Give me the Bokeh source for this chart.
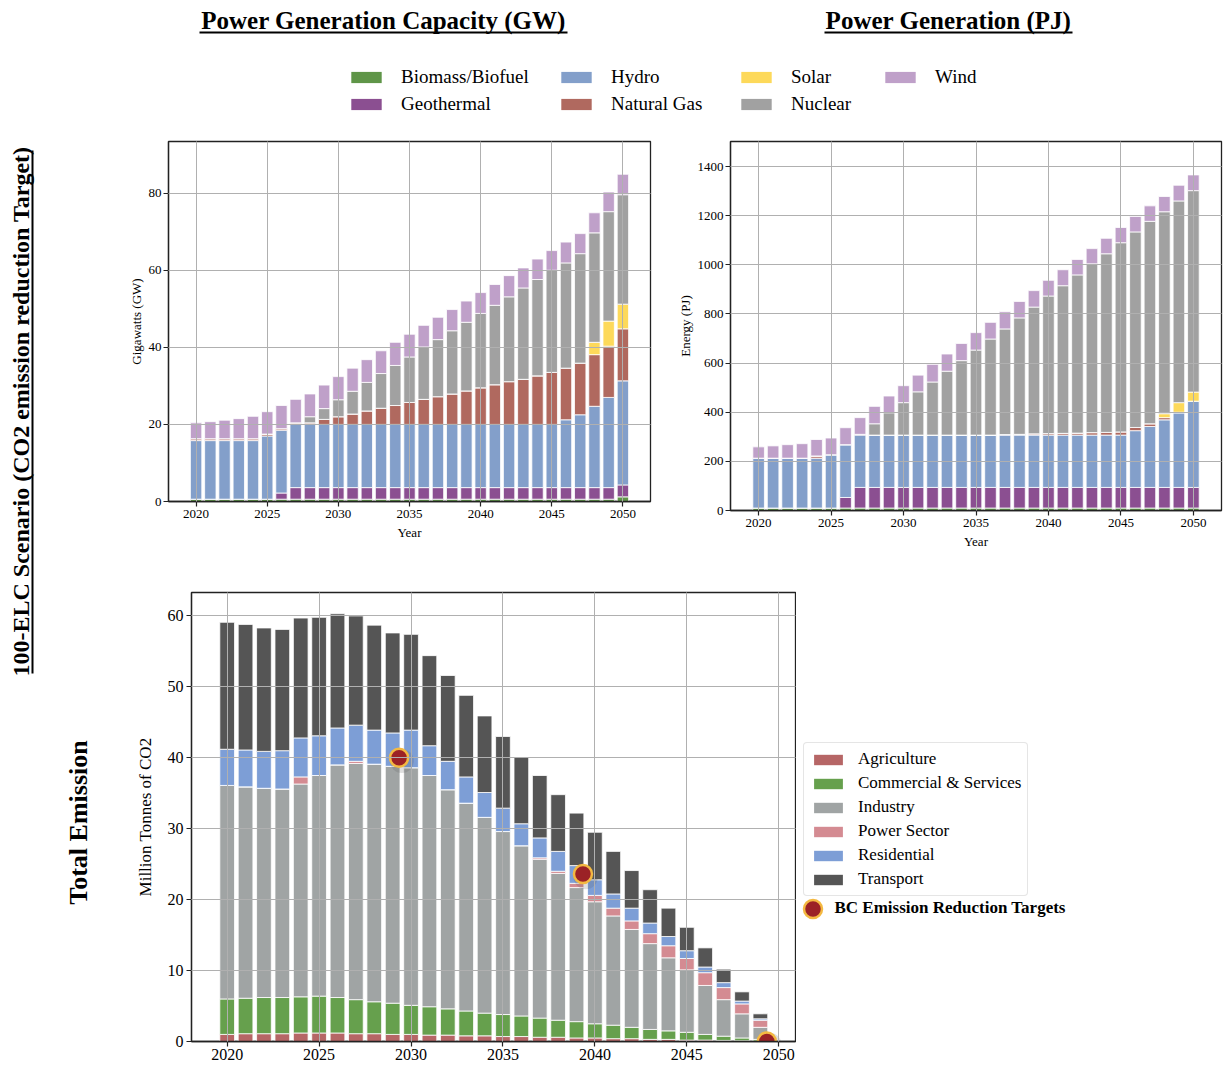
from bokeh.plotting import figure
from bokeh.models import ColumnDataSource, Range1d, FixedTicker, Legend, LegendItem, Label
from bokeh.layouts import row, column
from bokeh.embed import file_html
from bokeh.resources import INLINE
from bokeh.transform import dodge
import math

SERIF = "Liberation Serif"

# ---------------- data ----------------
years = [2020, 2021, 2022, 2023, 2024, 2025, 2026, 2027, 2028, 2029, 2030,
         2031, 2032, 2033, 2034, 2035, 2036, 2037, 2038, 2039, 2040,
         2041, 2042, 2043, 2044, 2045, 2046, 2047, 2048, 2049, 2050]
x_ticks = [2020, 2025, 2030, 2035, 2040, 2045, 2050]

# Capacity (GW)
biomass_gw = [0.6, 0.6, 0.6, 0.6, 0.6, 0.6, 0.6, 0.6, 0.6, 0.6, 0.6, 0.6, 0.6, 0.6, 0.6, 0.6,
              0.6, 0.6, 0.6, 0.6, 0.6, 0.6, 0.6, 0.6, 0.6, 0.6, 0.6, 0.6, 0.6, 0.6, 1.2]
geothermal_gw = [0, 0, 0, 0, 0, 0, 1.6, 3.0, 3.0, 3.0, 3.0, 3.0, 3.0, 3.0, 3.0, 3.0,
                 3.0, 3.0, 3.0, 3.0, 3.0, 3.0, 3.0, 3.0, 3.0, 3.0, 3.0, 3.0, 3.0, 3.0, 3.1]
hydro_gw = [15.2, 15.2, 15.2, 15.2, 15.2, 16.4, 16.3, 16.4, 16.4, 16.4, 16.4, 16.4, 16.4, 16.4,
            16.4, 16.4, 16.4, 16.4, 16.4, 16.4, 16.4, 16.4, 16.4, 16.4, 16.4, 16.4, 17.6, 18.9,
            21.1, 23.4, 27.0]
gas_gw = [0.5, 0.5, 0.5, 0.5, 0.5, 0.5, 0.4, 0.4, 0.4, 1.3, 2.0, 2.7, 3.5, 4.2, 4.9, 5.7, 6.5,
          7.2, 7.9, 8.7, 9.5, 10.3, 11.1, 11.7, 12.6, 13.5, 13.4, 13.4, 13.4, 13.3, 13.5]
solar_gw = [0, 0, 0, 0, 0, 0, 0, 0, 0, 0, 0, 0, 0, 0, 0, 0, 0, 0, 0, 0, 0, 0, 0, 0, 0, 0, 0, 0,
            3.2, 6.5, 6.4]
nuclear_gw = [0, 0, 0, 0, 0, 0, 0, 0, 1.6, 2.8, 4.4, 5.9, 7.4, 9.0, 10.4, 11.8, 13.6, 14.8, 16.4,
              17.8, 19.3, 20.6, 22.0, 23.7, 25.0, 26.5, 27.3, 28.4, 28.4, 28.4, 28.4]
wind_gw = [4.1, 4.4, 4.8, 5.2, 5.8, 5.8, 6.0, 6.1, 5.9, 6.1, 6.0, 6.0, 5.9, 5.9, 6.0, 5.9, 5.6,
           5.8, 5.5, 5.5, 5.4, 5.4, 5.5, 5.2, 5.3, 5.1, 5.4, 5.2, 5.2, 5.1, 5.3]
gw_ticks = [0, 20, 40, 60, 80]

# Generation (PJ)
biomass_pj = [10, 10, 10, 10, 10, 10, 10, 10, 10, 10, 10, 10, 10, 10, 10, 10, 10, 10, 10, 10,
              10, 10, 10, 10, 10, 10, 10, 10, 10, 10, 10]
geothermal_pj = [0, 0, 0, 0, 0, 0, 43, 84, 84, 84, 84, 84, 84, 84, 84, 84, 84, 84, 84, 84, 84,
                 84, 84, 84, 84, 84, 84, 84, 84, 84, 84]
hydro_pj = [203, 203, 203, 203, 203, 217, 215, 213, 213, 213, 213, 213, 213, 213, 213, 213, 213,
            213, 213, 213, 213, 213, 213, 213, 213, 213, 231, 248, 275, 303, 351]
gas_pj = [0, 0, 0, 0, 9, 0, 0, 3, 0, 0, 0, 0, 0, 0, 0, 0, 0, 2, 3, 5, 6, 7, 8, 10, 11, 13, 13,
          11, 9, 3, 0]
solar_pj = [0, 0, 0, 0, 0, 0, 0, 0, 0, 0, 0, 0, 0, 0, 0, 0, 0, 0, 0, 0, 0, 0, 0, 0, 0, 0, 0, 0,
            16, 39, 37]
nuclear_pj = [0, 0, 0, 0, 0, 0, 0, 0, 46, 91, 132, 176, 216, 260, 303, 346, 391, 430, 474, 516,
              560, 601, 644, 687, 727, 770, 796, 824, 822, 821, 820]
wind_pj = [46, 50, 55, 59, 67, 68, 69, 68, 71, 68, 69, 68, 72, 70, 70, 71, 68, 70, 67, 67, 64,
           65, 63, 62, 63, 62, 63, 63, 62, 64, 64]
pj_ticks = [0, 200, 400, 600, 800, 1000, 1200, 1400]

tech_names = ["Biomass/Biofuel", "Geothermal", "Hydro", "Natural Gas", "Solar", "Nuclear", "Wind"]
tech_colors = ["#5f9548", "#8b4f91", "#839fca", "#b0695f", "#fdd95a", "#a1a1a1", "#bfa0c9"]

# Emissions (Mt CO2)
agriculture = [1.0, 1.1, 1.1, 1.1, 1.2, 1.2, 1.2, 1.1, 1.1, 1.0, 1.0, 0.9, 0.9, 0.8, 0.8, 0.7,
               0.7, 0.6, 0.6, 0.5, 0.5, 0.4, 0.4, 0.3, 0.3, 0.2, 0.2, 0.15, 0.1, 0.05, 0]
commercial = [5.0, 5.0, 5.1, 5.1, 5.1, 5.2, 5.0, 4.8, 4.5, 4.4, 4.1, 4.0, 3.7, 3.5, 3.2, 3.1,
              2.9, 2.7, 2.4, 2.3, 2.0, 1.9, 1.6, 1.4, 1.2, 1.1, 0.8, 0.6, 0.4, 0.25, 0]
industry = [30.1, 29.8, 29.5, 29.4, 30.0, 31.1, 32.8, 33.3, 33.5, 33.4, 33.5, 32.6, 30.9, 29.3,
            27.6, 25.8, 24.0, 22.4, 20.7, 18.9, 17.2, 15.4, 13.8, 12.1, 10.3, 8.8, 6.9, 5.15,
            3.4, 1.7, 0]
power = [0, 0, 0, 0, 1.0, 0, 0, 0.3, 0, 0, 0, 0, 0, 0, 0, 0, 0, 0.2, 0.3, 0.6, 0.9, 1.1, 1.2,
         1.4, 1.7, 1.6, 1.8, 1.7, 1.4, 1.0, 0]
residential = [5.1, 5.2, 5.2, 5.4, 5.5, 5.6, 5.2, 5.1, 4.8, 4.7, 5.3, 4.2, 4.0, 3.7, 3.5, 3.3,
               3.1, 2.8, 2.8, 2.5, 2.2, 2.0, 1.8, 1.5, 1.3, 1.1, 0.8, 0.7, 0.4, 0.2, 0]
transport = [17.9, 17.7, 17.4, 17.1, 16.9, 16.7, 16.1, 15.4, 14.8, 14.1, 13.5, 12.7, 12.1, 11.5,
             10.8, 10.1, 9.4, 8.8, 8.0, 7.4, 6.7, 6.0, 5.3, 4.7, 4.0, 3.3, 2.7, 1.9, 1.3, 0.7, 0]
em_ticks = [0, 10, 20, 30, 40, 50, 60]

sector_names = ["Agriculture", "Commercial & Services", "Industry", "Power Sector",
                "Residential", "Transport"]
sector_colors = ["#b66666", "#66a04d", "#a0a4a4", "#d48b92", "#7d9ed6", "#555555"]

target_years = [2030, 2040, 2050]
target_values = [40.0, 23.6, 0.0]
target_label = "BC Emission Reduction Targets"

# ---------------- helpers ----------------
def style(p, tick_px, label_px):
    p.background_fill_color = "white"
    p.border_fill_color = "white"
    p.outline_line_color = "#222222"
    p.outline_line_width = 1.3
    for ax in (p.xaxis[0], p.yaxis[0]):
        ax.axis_line_color = "#222222"
        ax.axis_line_width = 1.3
        ax.major_tick_line_color = "#222222"
        ax.major_tick_line_width = 1.2
        ax.major_tick_out = 5
        ax.major_tick_in = 0
        ax.minor_tick_line_color = None
        ax.major_label_text_font = SERIF
        ax.major_label_text_font_size = tick_px
        ax.major_label_text_color = "black"
        ax.major_label_standoff = 3
        ax.axis_label_text_font = SERIF
        ax.axis_label_text_font_size = label_px
        ax.axis_label_text_font_style = "normal"
        ax.axis_label_text_color = "black"
    p.xaxis.ticker = FixedTicker(ticks=x_ticks)
    p.grid.grid_line_color = "#b0b0b0"
    p.grid.grid_line_width = 1
    p.grid.level = "guide"


def blank(w, h):
    f = figure(width=w, height=h, x_range=Range1d(0, w), y_range=Range1d(0, h),
               x_axis_type=None, y_axis_type=None, min_border=0,
               output_backend="svg", toolbar_location=None)
    f.outline_line_color = None
    f.grid.visible = False
    return f


# ---------------- header (titles + tech legend) ----------------
HW, HH = 1224, 135
header = blank(HW, HH)
header.add_layout(Label(x=383, y=HH - 20, text="Power Generation Capacity (GW)", text_align="center",
                        text_baseline="middle", text_font=SERIF, text_font_size="25px",
                        text_font_style="bold", text_color="black"))
header.add_layout(Label(x=948, y=HH - 20, text="Power Generation (PJ)", text_align="center",
                        text_baseline="middle", text_font=SERIF, text_font_size="25px",
                        text_font_style="bold", text_color="black"))
header.segment(x0=[199, 824], y0=[HH - 32, HH - 32], x1=[567, 1072], y1=[HH - 32, HH - 32],
               line_color="black", line_width=2)

# legend-only renderers (their single bar lies outside the visible range)
dummy = [header.vbar(x=[-500], top=[0], width=1, fill_color=c, line_color=None)
         for c in tech_colors]

legend_cols = [[0, 1], [2, 3], [4, 5], [6]]
legend_x = [347, 557, 737, 881]
for idxs, lx in zip(legend_cols, legend_x):
    n = len(idxs)
    h = n * 22 + (n - 1) * 5
    lg = Legend(items=[LegendItem(label=tech_names[i], renderers=[dummy[i]]) for i in idxs],
                location=(lx, HH - 66 - h), orientation="vertical", glyph_width=38, glyph_height=14,
                label_standoff=16, label_height=22, spacing=5, padding=0, margin=0,
                border_line_color=None, background_fill_alpha=0,
                label_text_font=SERIF, label_text_font_size="19px", label_text_color="black")
    header.add_layout(lg)

# ---------------- left strip (scenario labels) ----------------
LW, LH = 123, 931
left = blank(LW, LH)
TOP = HH + LH  # picture y of the strip bottom
left.add_layout(Label(x=20, y=TOP - 411, text="100-ELC Scenario (CO2 emission reduction Target)",
                      angle=math.pi / 2, text_align="center", text_baseline="middle",
                      text_font=SERIF, text_font_size="24px", text_font_style="bold",
                      text_color="black"))
left.segment(x0=[32], y0=[TOP - 673], x1=[32], y1=[TOP - 150], line_color="black", line_width=2)
left.add_layout(Label(x=78, y=TOP - 822, text="Total Emission", angle=math.pi / 2, text_align="center",
                      text_baseline="middle", text_font=SERIF, text_font_size="26px",
                      text_font_style="bold", text_color="black"))

# ---------------- capacity chart ----------------
src_gw = ColumnDataSource(dict(year=years, b=biomass_gw, g=geothermal_gw, h=hydro_gw,
                               n=gas_gw, s=solar_gw, u=nuclear_gw, w=wind_gw))
tl = figure(frame_width=482, frame_height=360, min_border_left=45, min_border_right=20,
            min_border_top=6, min_border_bottom=45,
            x_range=Range1d(2018.06, 2051.94), y_range=Range1d(0, 93.4),
            output_backend="svg", toolbar_location=None)
style(tl, "13px", "13px")
tl.yaxis.ticker = FixedTicker(ticks=gw_ticks)
tl.xaxis.axis_label = "Year"
tl.yaxis.axis_label = "Gigawatts (GW)"
tl.yaxis.axis_label_standoff = 2
tl.yaxis.major_label_standoff = 2
tl.xaxis.axis_label_standoff = 4
tl.vbar_stack(["b", "g", "h", "n", "s", "u", "w"], x="year", width=0.8, source=src_gw,
              fill_color=tech_colors, line_color="white", line_width=0.8)

# ---------------- generation chart ----------------
src_pj = ColumnDataSource(dict(year=years, b=biomass_pj, g=geothermal_pj, h=hydro_pj,
                               n=gas_pj, s=solar_pj, u=nuclear_pj, w=wind_pj))
tr = figure(frame_width=491, frame_height=369, min_border_left=60, min_border_right=2,
            min_border_top=4, min_border_bottom=45,
            x_range=Range1d(2018.06, 2051.94), y_range=Range1d(0, 1502),
            output_backend="svg", toolbar_location=None)
style(tr, "13px", "13px")
tr.yaxis.ticker = FixedTicker(ticks=pj_ticks)
tr.xaxis.axis_label = "Year"
tr.yaxis.axis_label = "Energy (PJ)"
tr.yaxis.axis_label_standoff = 2
tr.yaxis.major_label_standoff = 2
tr.xaxis.axis_label_standoff = 4
tr.vbar_stack(["b", "g", "h", "n", "s", "u", "w"], x="year", width=0.8, source=src_pj,
              fill_color=tech_colors, line_color="white", line_width=0.8)

# ---------------- emission chart ----------------
src_em = ColumnDataSource(dict(year=years, a=agriculture, c=commercial, i=industry,
                               p=power, r=residential, t=transport))
BH = 39 + 449 + 25
bt = figure(frame_width=604, frame_height=449, min_border_left=68, min_border_right=1,
            min_border_top=39, min_border_bottom=25,
            x_range=Range1d(2018.06, 2050.91), y_range=Range1d(0, 63.3),
            output_backend="svg", toolbar_location=None)
style(bt, "16px", "17px")
bt.yaxis.ticker = FixedTicker(ticks=em_ticks)
bt.yaxis.axis_label = "Million Tonnes of CO2"
bt.yaxis.axis_label_standoff = 10
bt.xaxis.major_label_standoff = 2
bt.vbar_stack(["a", "c", "i", "p", "r", "t"], x="year", width=0.8, source=src_em,
              fill_color=sector_colors, line_color="white", line_width=0.8)

src_t = ColumnDataSource(dict(year=target_years, value=target_values))
bt.scatter(x=dodge("year", -0.5, range=bt.x_range), y=dodge("value", -0.45, range=bt.y_range),
           size=24, fill_color="#555555", fill_alpha=0.18, line_color=None, source=src_t)
bt.scatter(x=dodge("year", -0.65, range=bt.x_range), y="value", size=18,
           fill_color="#9b2226", line_color="#f4b942", line_width=2.5, source=src_t)

# ---------------- legend panel for the emission chart ----------------
SW = 1224 - (123 + 68 + 604 + 1)
side = blank(SW, BH)
side_bottom = 553 + BH - 26  # picture y of the panel frame bottom (measured)
side_left = 123 + 68 + 604 + 1
sec_dummy = [side.vbar(x=[-500], top=[0], width=1, fill_color=c, line_color=None)
             for c in sector_colors]
mk_dummy = side.scatter(x=[-500], y=[0], size=18, fill_color="#9b2226", line_color="#f4b942",
                        line_width=2.5)

EM_H = 6 * 20 + 5 * 4 + 12
em_legend = Legend(items=[LegendItem(label=n, renderers=[r]) for n, r in zip(sector_names, sec_dummy)],
                   location=(803 - side_left, side_bottom - 743 - EM_H), orientation="vertical",
                   glyph_width=36, glyph_height=13, label_standoff=12, label_height=20, spacing=4,
                   padding=6, margin=0, border_line_color="#cccccc", border_line_width=1.5,
                   border_radius=4, background_fill_color="white", background_fill_alpha=1,
                   label_text_font=SERIF, label_text_font_size="17px", label_text_color="black")
side.add_layout(em_legend)
bc_legend = Legend(items=[LegendItem(label=target_label, renderers=[mk_dummy])],
                   location=(812 - 22.5 - side_left, side_bottom - 907 - 22.5),
                   glyph_width=45, glyph_height=45, label_standoff=0, label_height=45,
                   padding=0, margin=0, border_line_color=None, background_fill_alpha=0,
                   label_text_font=SERIF, label_text_font_size="17px",
                   label_text_font_style="bold", label_text_color="black")
side.add_layout(bc_legend)

layout = column(header, row(left, column(row(tl, tr), row(bt, side))))

open("out.html", "w").write(file_html(layout, INLINE))
